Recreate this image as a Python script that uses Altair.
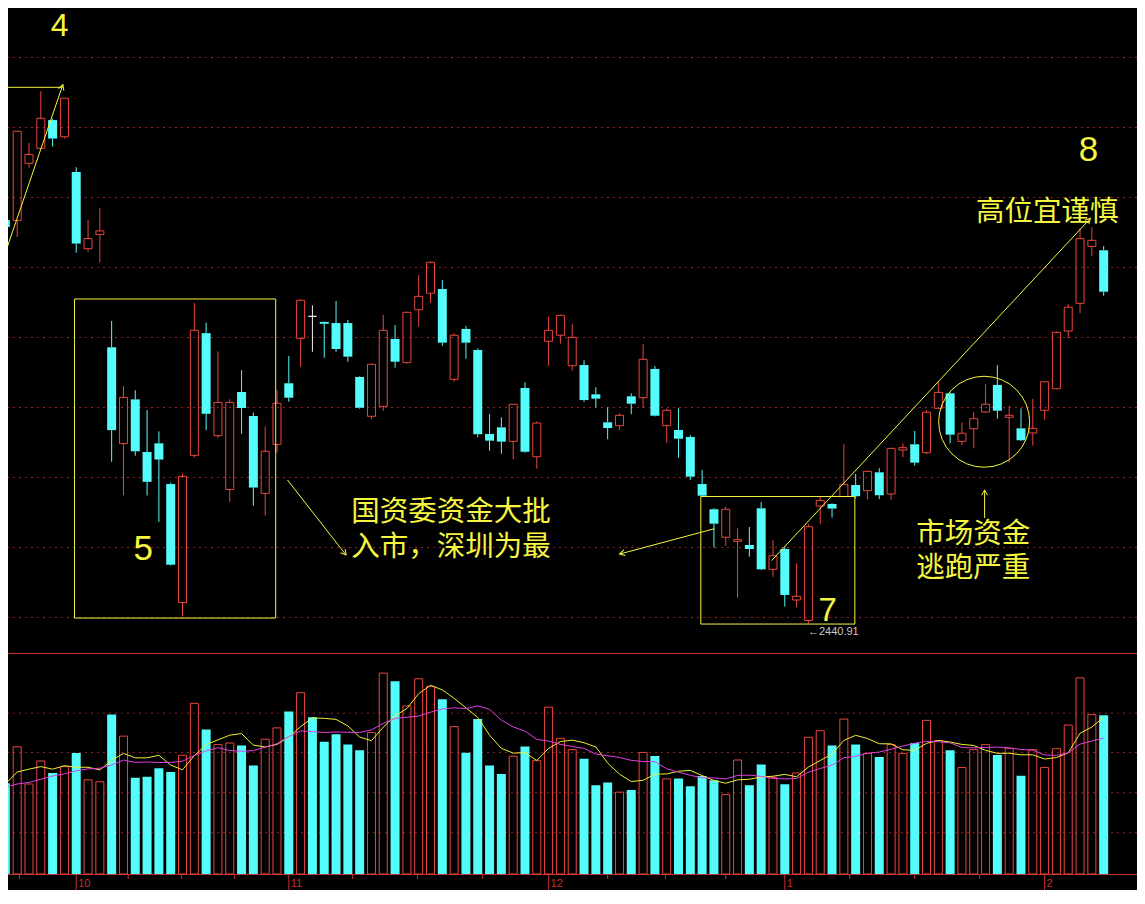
import altair as alt
import pandas as pd

# ---------------- colours ----------------
RED = "#e8463e"
CYAN = "#54fcfc"
WHITE = "#f0f0f0"
YEL = "#f6f640"
GRID = "#9a2222"
AXIS = "#c0302c"
MA5C = "#f0f030"
MA10C = "#e040e0"

# ---------------- daily candles (index points) ----------------
opens = [2729.1, 2728.8, 2769.6, 2780.3, 2800.5, 2788.6, 2763.4, 2708.6, 2718.8, 2638.2,
         2569.4, 2601.0, 2563.4, 2569.6, 2540.5, 2455.9, 2561.0, 2648.3, 2575.1, 2536.6,
         2606.3, 2589.1, 2533.8, 2568.8, 2612.5, 2644.6, 2660.3, 2656.3, 2655.5, 2655.5,
         2617.0, 2588.9, 2596.0, 2644.1, 2627.2, 2665.0, 2676.8, 2679.8, 2615.3, 2651.3,
         2636.3, 2576.3, 2581.0, 2571.0, 2609.1, 2560.0, 2642.5, 2646.8, 2625.0, 2625.5,
         2604.6, 2584.6, 2582.2, 2603.2, 2602.2, 2622.7, 2582.2, 2579.1, 2574.1, 2540.5,
         2522.5, 2502.5, 2499.6, 2497.0, 2523.2, 2479.6, 2494.1, 2457.7, 2443.0, 2524.8,
         2526.3, 2531.6, 2539.8, 2535.8, 2548.9, 2533.4, 2564.8, 2568.9, 2562.9, 2594.6,
         2605.3, 2571.0, 2580.0, 2592.0, 2611.3, 2588.2, 2580.3, 2577.0, 2593.2, 2608.6,
         2649.8, 2669.6, 2710.3, 2707.5]
highs = [2739.8, 2792.5, 2784.2, 2821.1, 2801.5, 2816.1, 2766.8, 2729.1, 2737.7, 2657.0,
         2610.4, 2607.5, 2593.3, 2578.2, 2541.5, 2548.0, 2669.9, 2655.9, 2635.3, 2601.0,
         2621.8, 2591.5, 2581.6, 2607.5, 2632.0, 2672.3, 2668.2, 2656.6, 2671.3, 2657.7,
         2617.5, 2626.5, 2661.3, 2654.1, 2663.5, 2689.8, 2699.5, 2686.3, 2648.2, 2653.4,
         2637.5, 2590.5, 2588.2, 2597.8, 2613.2, 2585.0, 2660.0, 2661.5, 2654.8, 2628.9,
         2609.6, 2595.3, 2591.0, 2605.3, 2640.5, 2624.8, 2594.3, 2594.6, 2575.5, 2550.5,
         2523.4, 2524.3, 2508.9, 2509.8, 2527.7, 2500.3, 2495.8, 2483.9, 2512.0, 2531.6,
         2526.8, 2568.9, 2547.7, 2550.0, 2551.8, 2566.5, 2569.6, 2578.4, 2593.4, 2613.6,
         2606.0, 2584.6, 2592.0, 2611.8, 2625.5, 2596.5, 2594.6, 2601.3, 2614.0, 2649.5,
         2668.9, 2723.2, 2723.9, 2710.5]
lows = [2718.4, 2717.0, 2766.5, 2780.3, 2781.6, 2787.3, 2705.8, 2706.5, 2698.8, 2556.4,
        2532.5, 2560.8, 2532.3, 2513.5, 2482.3, 2446.0, 2559.5, 2579.0, 2573.3, 2527.8,
        2576.4, 2525.0, 2518.0, 2562.9, 2599.3, 2624.3, 2635.0, 2630.8, 2635.0, 2627.9,
        2594.3, 2586.8, 2592.9, 2623.6, 2626.5, 2652.9, 2670.0, 2639.3, 2613.6, 2630.0,
        2573.9, 2564.3, 2562.2, 2558.2, 2562.8, 2551.5, 2625.0, 2640.8, 2621.5, 2599.3,
        2595.0, 2572.5, 2579.1, 2590.5, 2595.0, 2588.8, 2570.0, 2559.3, 2543.4, 2531.5,
        2495.0, 2496.3, 2459.3, 2488.6, 2479.0, 2474.3, 2453.0, 2452.5, 2440.91, 2512.0,
        2516.6, 2531.0, 2530.3, 2529.6, 2529.8, 2529.1, 2559.6, 2553.6, 2562.0, 2594.0,
        2569.6, 2568.4, 2566.0, 2591.5, 2587.2, 2555.8, 2571.3, 2567.9, 2586.5, 2608.0,
        2644.6, 2662.5, 2703.4, 2675.0]
closes = [2724.1, 2792.5, 2775.9, 2801.8, 2787.3, 2816.1, 2712.3, 2715.9, 2721.3, 2579.0,
          2602.3, 2563.9, 2542.1, 2558.0, 2482.9, 2546.0, 2650.4, 2590.7, 2598.8, 2598.8,
          2594.8, 2538.0, 2563.9, 2598.2, 2602.2, 2671.8, 2660.3, 2655.0, 2637.0, 2631.5,
          2595.0, 2626.0, 2650.3, 2627.9, 2663.2, 2674.6, 2698.9, 2641.5, 2646.8, 2641.5,
          2576.0, 2571.5, 2570.8, 2597.5, 2563.6, 2584.1, 2650.3, 2661.0, 2645.3, 2600.5,
          2601.5, 2580.5, 2589.6, 2597.9, 2629.6, 2589.3, 2593.2, 2572.9, 2545.8, 2532.2,
          2512.2, 2522.5, 2500.8, 2494.1, 2479.6, 2489.3, 2461.3, 2460.3, 2510.0, 2528.8,
          2523.0, 2540.3, 2531.8, 2549.6, 2532.5, 2566.0, 2566.5, 2555.8, 2591.8, 2606.0,
          2575.8, 2576.8, 2587.2, 2597.5, 2592.9, 2589.6, 2571.8, 2580.3, 2613.6, 2648.9,
          2666.8, 2715.8, 2714.6, 2677.9]

# ---------------- volume (万手) and its moving averages ----------------
volumes = [9600, 13470, 9530, 11970, 10700, 11370, 12800, 9970, 9770, 16900,
           14600, 10200, 10300, 11200, 10800, 12570, 18070, 15300, 13700, 13870,
           13600, 11500, 14270, 15470, 17200, 19200, 16600, 14000, 14800, 13700,
           13100, 14970, 21270, 20400, 17800, 20670, 19870, 18500, 15600, 12830,
           16400, 11500, 10600, 12470, 13500, 12000, 17670, 14370, 13170, 12200,
           9400, 9700, 8670, 8900, 12870, 12500, 10070, 10100, 9300, 10370,
           9930, 8400, 12070, 9400, 11600, 10230, 9500, 10700, 14470, 15170,
           13600, 16400, 13700, 12770, 12400, 13700, 12770, 13870, 16270, 14130,
           13100, 11270, 13170, 13700, 12600, 13300, 10400, 13170, 11270, 13270,
           15770, 20770, 16870, 16800]
vol_ma5 = [9530, 10800, 11100, 11370, 11100, 11470, 11300, 11300, 11030, 12030,
           12770, 12300, 12300, 12570, 11530, 11030, 12530, 13700, 14200, 14700,
           14870, 13650, 13450, 13720, 14500, 15600, 16530, 16480, 16370, 15680,
           14500, 14110, 15550, 16750, 17520, 19100, 19980, 19500, 18600, 17600,
           16580, 14700, 13300, 12800, 12850, 12020, 13300, 14020, 14170, 13900,
           13450, 11740, 10580, 9790, 9920, 10560, 10600, 10880, 10970, 10420,
           9900, 9610, 9970, 10030, 10280, 10350, 10550, 10290, 11330, 12020,
           12690, 14150, 14680, 14350, 13790, 13780, 13150, 13100, 13830, 14140,
           13970, 13720, 13610, 13090, 12780, 12790, 12620, 12620, 12170, 12330,
           12830, 14900, 15560, 16600]
vol_ma10 = [9200, 9530, 9700, 10030, 10370, 10600, 10930, 11130, 11200, 11530,
            12070, 11820, 11860, 11800, 11820, 11940, 12550, 13030, 13370, 13080,
            13000, 13060, 13430, 13800, 14550, 15150, 15080, 14980, 15040, 15010,
            14980, 15260, 15950, 16480, 16590, 16720, 17130, 17470, 17590, 17510,
            17800, 17430, 16300, 15580, 15120, 14260, 14070, 13730, 13500, 13300,
            12700, 12520, 12340, 12030, 11910, 11900, 11140, 10780, 10450, 10190,
            10170, 10070, 10440, 10470, 10340, 10120, 10060, 10120, 10770, 11170,
            11520, 12320, 12450, 12790, 12910, 13220, 13550, 13840, 14050, 14000,
            13890, 13390, 13360, 13400, 13440, 13360, 13190, 13110, 12610, 12560,
            12830, 13750, 14080, 14400]

# ---------------- axis text / grid values ----------------
month_labels = ["10", "11", "12", "1", "2"]
month_start = [6, 24, 46, 66, 88]
week_ticks = [1.2, 10.4, 14.9, 19.4, 29.4, 34.9, 40.4, 51.0, 55.9, 61.0, 71.5, 77.0, 82.5]
price_grid = [2445.2, 2495.2, 2545.2, 2595.2, 2645.2, 2695.2, 2745.2, 2795.2, 2845.2]
vol_grid = [4370, 8600, 12870, 17030]

# ---------------- annotations (in bar index / price units) ----------------
seg_i = [0, 0, 23.89, 60.04, 64.88, 82.92]
seg_p = [2823.9, 2705.8, 2543.4, 2508.6, 2485.8, 2516.3]
seg_i2 = [4.84, 4.87, 28.85, 52.01, 91.88, 82.92]
seg_p2 = [2823.9, 2825.8, 2489.8, 2490.5, 2730.3, 2536.3]
head_i = [4.87, 28.85, 52.01, 91.88, 82.92]
head_p = [2825.8, 2489.8, 2490.5, 2730.3, 2536.3]
head_ang = [19.1, 141.8, 255.2, 43.2, 0]
box_i = [5.85, 58.89]
box_i2 = [22.89, 71.93]
box_p = [2672.7, 2531.6]
box_p2 = [2444.8, 2440.5]
ring_i = [82.88]
ring_p = [2585.0]
num_text = ["4", "5", "7", "8"]
num_i = [4.59, 11.68, 69.64, 91.71]
num_p = [2868.0, 2494.1, 2450.0, 2779.1]
num_size = [32, 35, 33, 35]
cn_text = ["国资委资金大批\n入市，深圳为最", "市场资金\n逃跑严重", "高位宜谨慎"]
cn_i = [37.73, 81.95, 88.22]
cn_p = [2520.5, 2505.1, 2734.8]
low_text = ["←2440.91"]
low_i = [67.96]
low_p = [2434.6]

# ---------------- tables ----------------
n = len(opens)
df = pd.DataFrame({"i": list(range(n)), "o": opens, "h": highs, "l": lows, "c": closes,
                   "v": volumes, "ma5": vol_ma5, "ma10": vol_ma10})
df["top"] = df[["o", "c"]].max(axis=1)
df["bot"] = df[["o", "c"]].min(axis=1)
df["dir"] = ["up" if c > o else ("down" if c < o else "flat") for o, c in zip(opens, closes)]

W, H = 1129, 882
X = alt.Scale(domain=[0.6462, 95.40], nice=False, zero=False)
PY = alt.Scale(domain=[2419.83, 2880.55], range=[645, 0], nice=False, zero=False)
VY = alt.Scale(domain=[0, 23400], range=[866, 645], nice=False, zero=False)


def xq(f="i"):
    return alt.X(f"{f}:Q", scale=X, axis=None)


def py(f):
    return alt.Y(f"{f}:Q", scale=PY, axis=None)


def vy(f):
    return alt.Y(f"{f}:Q", scale=VY, axis=None)


dir_color = alt.Color("dir:N", scale=alt.Scale(domain=["up", "down", "flat"], range=[RED, CYAN, WHITE]),
                      legend=None)
one = pd.DataFrame({"k": [0]})
base = alt.Chart(df)

layers = []
# grids
layers.append(alt.Chart(pd.DataFrame({"p": price_grid})).mark_rule(color=GRID, strokeDash=[2, 4], strokeWidth=1)
              .encode(y=py("p")))
layers.append(alt.Chart(pd.DataFrame({"v": vol_grid})).mark_rule(color=GRID, strokeDash=[2, 4], strokeWidth=1)
              .encode(y=vy("v")))
# panel separator and bottom axis line
layers.append(alt.Chart(one).mark_rule(color=AXIS, strokeWidth=1).encode(y=alt.value(645.5)))
layers.append(alt.Chart(one).mark_rule(color=AXIS, strokeWidth=1).encode(y=alt.value(866.5)))
# ticks and month labels
layers.append(alt.Chart(pd.DataFrame({"i": month_start})).mark_rule(color=AXIS, strokeWidth=1)
              .encode(x=xq(), y=alt.value(867), y2=alt.value(882)))
layers.append(alt.Chart(pd.DataFrame({"i": week_ticks})).mark_rule(color=AXIS, strokeWidth=1)
              .encode(x=xq(), y=alt.value(867), y2=alt.value(871)))
layers.append(alt.Chart(pd.DataFrame({"i": month_start, "t": month_labels}))
              .mark_text(color=AXIS, fontSize=11, font="Liberation Sans", align="left", baseline="alphabetic", dx=2)
              .encode(x=xq(), y=alt.value(878.5), text="t:N"))

# volume bars
layers.append(base.transform_filter(alt.datum.c > alt.datum.o)
              .mark_bar(size=8, fill="transparent", stroke=RED, strokeWidth=1)
              .encode(x=xq(), y=vy("v"), y2=alt.datum(0)))
layers.append(base.transform_filter(alt.datum.c <= alt.datum.o)
              .mark_bar(size=9, color=CYAN)
              .encode(x=xq(), y=vy("v"), y2=alt.datum(0)))
layers.append(base.mark_line(color=MA5C, strokeWidth=1).encode(x=xq(), y=vy("ma5")))
layers.append(base.mark_line(color=MA10C, strokeWidth=1).encode(x=xq(), y=vy("ma10")))

# candles: wicks
layers.append(base.mark_rule(strokeWidth=1).encode(x=xq(), y=py("h"), y2=alt.Y2("top:Q"), color=dir_color))
layers.append(base.mark_rule(strokeWidth=1).encode(x=xq(), y=py("bot"), y2=alt.Y2("l:Q"), color=dir_color))
# candles: bodies
layers.append(base.transform_filter(alt.datum.dir == "up")
              .mark_bar(size=8, fill="transparent", stroke=RED, strokeWidth=1)
              .encode(x=xq(), y=py("top"), y2=alt.Y2("bot:Q")))
layers.append(base.transform_filter(alt.datum.dir == "down")
              .mark_bar(size=9, color=CYAN)
              .encode(x=xq(), y=py("top"), y2=alt.Y2("bot:Q")))
layers.append(base.transform_filter(alt.datum.dir == "flat")
              .mark_bar(size=8, fill=WHITE, stroke=WHITE, strokeWidth=1)
              .encode(x=xq(), y=py("top"), y2=alt.Y2("bot:Q")))

# annotations
segs = pd.DataFrame({"i": seg_i, "p": seg_p, "i2": seg_i2, "p2": seg_p2})
layers.append(alt.Chart(segs).mark_rule(color=YEL, strokeWidth=1)
              .encode(x=xq(), x2=alt.X2("i2:Q"), y=py("p"), y2=alt.Y2("p2:Q")))
heads = pd.DataFrame({"i": head_i, "p": head_p, "ang": head_ang})
layers.append(alt.Chart(heads).mark_point(shape="M -0.55 1 L 0 0 L 0.55 1", filled=False, size=110,
                                          color=YEL, strokeWidth=1, opacity=1)
              .encode(x=xq(), y=py("p"), angle=alt.Angle("ang:Q", scale=None)))
boxes = pd.DataFrame({"i": box_i, "i2": box_i2, "p": box_p, "p2": box_p2})
layers.append(alt.Chart(boxes).mark_rect(fill="transparent", stroke=YEL, strokeWidth=1)
              .encode(x=xq(), x2=alt.X2("i2:Q"), y=py("p"), y2=alt.Y2("p2:Q")))
ring = pd.DataFrame({"i": ring_i, "p": ring_p})
layers.append(alt.Chart(ring).mark_point(shape="circle", size=8281, filled=False, color=YEL,
                                         strokeWidth=1, opacity=1)
              .encode(x=xq(), y=py("p")))
nums = pd.DataFrame({"i": num_i, "p": num_p, "t": num_text, "s": num_size})
layers.append(alt.Chart(nums).mark_text(color=YEL, font="Liberation Sans", align="center",
                                        baseline="middle")
              .encode(x=xq(), y=py("p"), text="t:N", size=alt.Size("s:Q", scale=None)))
cns = pd.DataFrame({"i": cn_i, "p": cn_p, "t": cn_text})
layers.append(alt.Chart(cns).mark_text(color=YEL, fontSize=28.5, font="Noto Sans CJK SC", align="center",
                                       baseline="middle", lineBreak="\n", lineHeight=34.5)
              .encode(x=xq(), y=py("p"), text="t:N"))
lows_df = pd.DataFrame({"i": low_i, "p": low_p, "t": low_text})
layers.append(alt.Chart(lows_df).mark_text(color="#c8c8c8", fontSize=11, font="Liberation Sans", align="left",
                                           baseline="middle")
              .encode(x=xq(), y=py("p"), text="t:N"))

chart = (alt.layer(*layers)
         .resolve_scale(y="independent")
         .properties(width=W, height=H, padding=0, autosize=alt.AutoSizeParams(type="none"),
                     background="black")
         .configure_view(stroke=None))

chart.save("out.html", embed_options={"renderer": "svg", "actions": False})
